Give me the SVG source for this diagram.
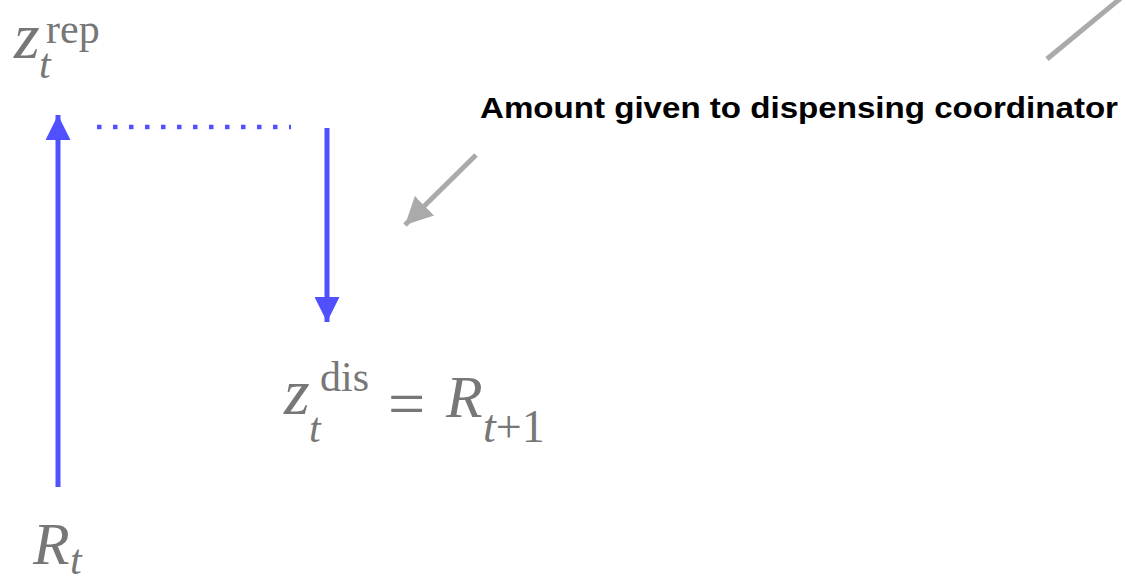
<svg xmlns="http://www.w3.org/2000/svg" width="1127" height="577" viewBox="0 0 1127 577">
<style>
.m{font-family:"Liberation Serif","Times New Roman",serif;fill:#777777}
.i{font-style:italic}
.big{font-size:60px}
.zz{font-size:66px}
.sm{font-size:42px}
.lbl{font-family:"Liberation Sans",Arial,Helvetica,sans-serif;font-size:30px;font-weight:bold;fill:#000}
.blue{stroke:#5050ff;stroke-width:5;fill:none}
.gray{stroke:#aaaaaa;stroke-width:5;fill:none}
</style>
<defs>
<marker id="ab" viewBox="0 0 10 10" refX="10" refY="5" markerWidth="5" markerHeight="5" markerUnits="strokeWidth" orient="auto">
<path d="M0,0 L10,5 L0,10 z" fill="#5050ff"/>
</marker>
<marker id="ag" viewBox="0 0 10 10" refX="10" refY="5" markerWidth="5.5" markerHeight="5.5" markerUnits="strokeWidth" orient="auto">
<path d="M0,0 L10,5 L0,10 z" fill="#aaaaaa"/>
</marker>
</defs>
<g id="node-zrep">
<text class="m i zz" x="14" y="58">z</text>
<text class="m i sm" x="39" y="78">t</text>
<text class="m sm" x="46" y="43">rep</text>
</g>
<g id="node-zdis">
<text class="m i zz" x="284" y="414">z</text>
<text class="m i sm" x="309" y="442">t</text>
<text class="m sm" x="320" y="391">dis</text>
<text class="m" style="font-size:66px" x="388" y="426">=</text>
<text class="m i big" x="446" y="417">R</text>
<text class="m" style="font-size:46px" x="483" y="442"><tspan class="i">t</tspan>+1</text>
</g>
<g id="node-rt">
<text class="m i big" x="33" y="564">R</text>
<text class="m i sm" x="70" y="574">t</text>
</g>
<g id="node-label">
<text class="lbl" x="480" y="118" textLength="638" lengthAdjust="spacingAndGlyphs">Amount given to dispensing coordinator</text>
</g>
<g id="connectors">
<line class="blue" x1="58" y1="487" x2="58" y2="115" marker-end="url(#ab)"/>
<line x1="97" y1="127" x2="291" y2="127" stroke="#5050ff" stroke-width="4.5" stroke-dasharray="4.5 11.5"/>
<line class="blue" x1="327" y1="128" x2="327" y2="322" marker-end="url(#ab)"/>
<line class="gray" x1="476" y1="155" x2="405" y2="225" marker-end="url(#ag)"/>
<line class="gray" x1="1047" y1="59" x2="1127" y2="-7"/>
</g>
</svg>
